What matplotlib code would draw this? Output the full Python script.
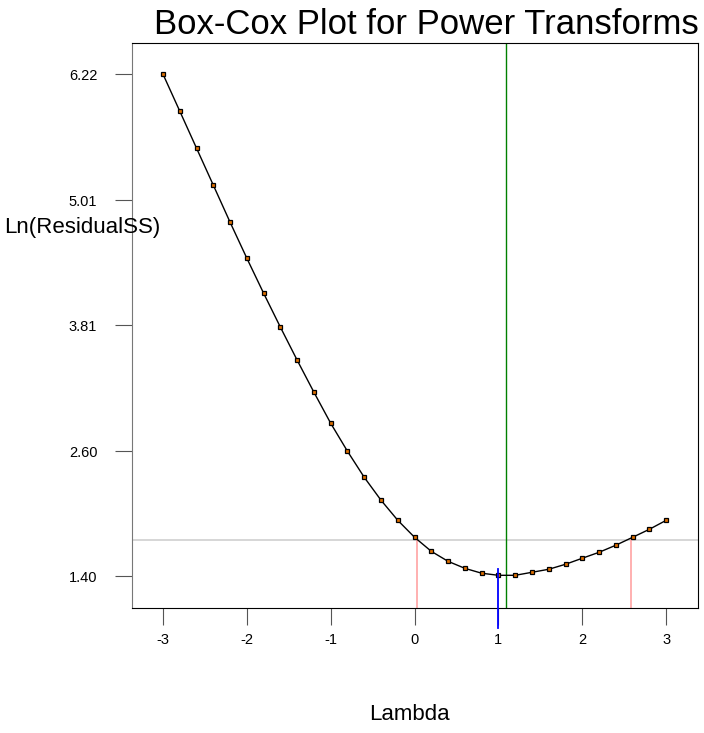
import numpy as np
import matplotlib
matplotlib.use('Agg')
import matplotlib.pyplot as plt

plt.rcParams['font.family'] = ['Liberation Sans', 'DejaVu Sans']

# Box-Cox profile: lambda grid and ln(residual SS)
lambdas = np.round(np.arange(-3.0, 3.01, 0.2), 1)
ln_rss = [6.22, 5.865, 5.509, 5.154, 4.798, 4.452, 4.116, 3.790, 3.473, 3.165,
          2.867, 2.598, 2.348, 2.128, 1.935, 1.772, 1.637, 1.541, 1.474, 1.427,
          1.407, 1.407, 1.436, 1.465, 1.513, 1.571, 1.628, 1.696, 1.772, 1.849,
          1.935]

y_ticks = [1.40, 2.60, 3.81, 5.01, 6.22]
x_ticks = [-3, -2, -1, 0, 1, 2, 3]

best_lambda = 1.09      # green line
rounded_lambda = 1.0    # blue marker
ci_level = 1.743        # gray cutoff
ci_bounds = [0.03, 2.585]

fig = plt.figure(figsize=(7.04, 7.33), dpi=100)
ax = fig.add_axes([132 / 704, 125 / 733, 566 / 704, 565 / 733])

ax.plot(lambdas, ln_rss, color='black', lw=1, zorder=3)
ax.plot(lambdas, ln_rss, ls='none', marker='s', ms=3.2, mfc='#e07000',
        mec='black', mew=0.9, zorder=4)

ax.axhline(ci_level, color='#d3d3d3', lw=1.3, zorder=1)
for b in ci_bounds:
    ax.plot([b, b], [1.093, ci_level], color='#ffaaaa', lw=1.3, zorder=2)
ax.axvline(best_lambda, color='green', lw=1, zorder=2)
ax.plot([rounded_lambda, rounded_lambda], [0.90, 1.47], color='blue', lw=1.3,
        clip_on=False, zorder=5)

ax.set_xlim(-3.37, 3.38)
ax.set_ylim(1.093, 6.52)
ax.set_xticks(x_ticks)
ax.set_xticklabels([str(x) for x in x_ticks])
ax.set_yticks(y_ticks)
ax.set_yticklabels(['%.2f' % y for y in y_ticks])
ax.tick_params(axis='both', labelsize=10.5, length=12, color='#555555')
ax.tick_params(axis='y', pad=13)
ax.tick_params(axis='x', pad=6)
ax.spines['left'].set_color('#777777')

fig.text(699 / 704, 1 - 24 / 733, 'Box-Cox Plot for Power Transforms',
         ha='right', va='center', fontsize=25)
fig.text(4 / 704, 1 - 228 / 733, 'Ln(ResidualSS)', ha='left', va='center',
         fontsize=16)
fig.text(409 / 704, 1 - 715 / 733, 'Lambda', ha='center', va='center',
         fontsize=16)

fig.savefig('out.png', dpi=100)
